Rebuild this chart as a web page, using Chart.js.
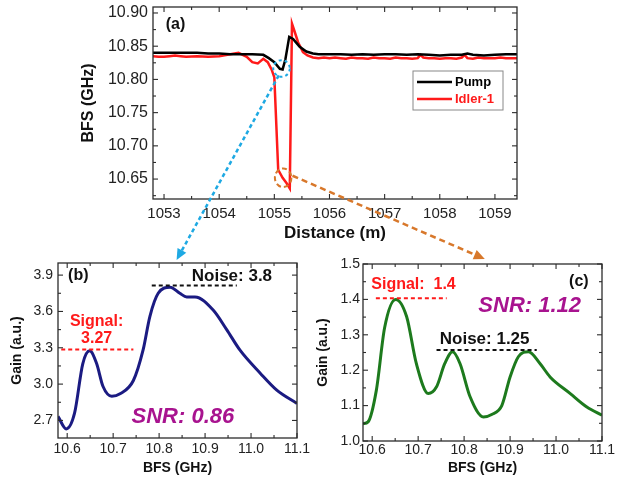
<!DOCTYPE html>
<html lang="en">
<head>
<meta charset="UTF-8">
<title>BFS and Gain spectra</title>
<script src="https://cdn.jsdelivr.net/npm/chart.js"></script>
<style>
  body { margin: 0; background: #fff; }
  #wrap { position: relative; width: 621px; height: 481px; }
  canvas { position: absolute; }
</style>
</head>
<body>
<div id="wrap">
  <canvas id="chartA" width="621" height="246" style="left:0;top:0"></canvas>
  <canvas id="chartB" width="310" height="231" style="left:0;top:250px"></canvas>
  <canvas id="chartC" width="311" height="231" style="left:310px;top:250px"></canvas>
  <canvas id="arrows" width="621" height="481" style="left:0;top:0"></canvas>
</div>
<script>
// (a) BFS along the fibre
const pumpDist = [1052.8, 1053.0, 1053.2, 1053.4, 1053.6, 1053.8, 1054.0, 1054.2, 1054.4, 1054.6, 1054.8,
  1054.9, 1055.0, 1055.1, 1055.15, 1055.2, 1055.27, 1055.34, 1055.4, 1055.46, 1055.58, 1055.7, 1055.8,
  1056.0, 1056.2, 1056.4, 1056.6, 1056.8, 1057.0, 1057.2, 1057.4, 1057.6, 1057.8, 1058.0, 1058.2,
  1058.4, 1058.5, 1058.6, 1058.8, 1059.0, 1059.2, 1059.4];
const pumpBfs = [10.840, 10.840, 10.840, 10.840, 10.840, 10.839, 10.839, 10.838, 10.838, 10.838, 10.837,
  10.832, 10.826, 10.816, 10.815, 10.830, 10.864, 10.861, 10.855, 10.849, 10.842, 10.839, 10.838,
  10.838, 10.838, 10.837, 10.838, 10.837, 10.838, 10.838, 10.837, 10.838, 10.837, 10.836, 10.837,
  10.837, 10.839, 10.837, 10.836, 10.837, 10.838, 10.838];

const idlerDist = [1052.8, 1052.9, 1053.0, 1053.1, 1053.2, 1053.3, 1053.4, 1053.6, 1053.8, 1054.0, 1054.2,
  1054.35, 1054.5, 1054.6, 1054.7, 1054.8, 1054.88, 1054.95, 1055.0, 1055.07, 1055.15, 1055.22, 1055.28,
  1055.32, 1055.36, 1055.43, 1055.52, 1055.6, 1055.7, 1055.8, 1055.9, 1056.0, 1056.1, 1056.2, 1056.3,
  1056.4, 1056.5, 1056.6, 1056.7, 1056.8, 1056.9, 1057.0, 1057.1, 1057.2, 1057.3, 1057.4, 1057.5,
  1057.6, 1057.65, 1057.7, 1057.8, 1057.9, 1058.0, 1058.1, 1058.2, 1058.3, 1058.4, 1058.45, 1058.5,
  1058.6, 1058.7, 1058.8, 1058.9, 1059.0, 1059.1, 1059.2, 1059.4];
const idlerBfs = [10.835, 10.834, 10.834, 10.835, 10.836, 10.835, 10.834, 10.835, 10.834, 10.835, 10.838,
  10.840, 10.834, 10.826, 10.824, 10.831, 10.826, 10.815, 10.803, 10.664, 10.652, 10.644, 10.636,
  10.884, 10.874, 10.856, 10.841, 10.836, 10.833, 10.832, 10.833, 10.832, 10.833, 10.832, 10.831,
  10.833, 10.832, 10.832, 10.831, 10.833, 10.832, 10.832, 10.831, 10.833, 10.832, 10.832, 10.831,
  10.832, 10.837, 10.833, 10.832, 10.832, 10.831, 10.832, 10.832, 10.831, 10.833, 10.837, 10.832,
  10.831, 10.833, 10.832, 10.832, 10.832, 10.833, 10.832, 10.832];

const aXTicks = [1053, 1054, 1055, 1056, 1057, 1058, 1059];
const aYTicks = [10.65, 10.70, 10.75, 10.80, 10.85, 10.90];

// (b) gain spectrum, blue ellipse
const bfsB = [10.58, 10.598, 10.616, 10.634, 10.649, 10.664, 10.678, 10.697, 10.715, 10.744, 10.765,
  10.78, 10.798, 10.824, 10.845, 10.86, 10.878, 10.918, 10.947, 10.976, 11.02, 11.056, 11.1];
const gainB = [2.733, 2.63, 2.76, 3.17, 3.275, 3.17, 2.98, 2.90, 2.92, 3.03, 3.28,
  3.56, 3.75, 3.80, 3.75, 3.72, 3.72, 3.61, 3.45, 3.28, 3.09, 2.95, 2.84];
const bYTicks = [2.7, 3.0, 3.3, 3.6, 3.9];

// (c) gain spectrum, orange ellipse
const bfsC = [10.58, 10.591, 10.609, 10.627, 10.651, 10.675, 10.696, 10.722, 10.74, 10.758, 10.775,
  10.791, 10.813, 10.842, 10.86, 10.882, 10.90, 10.918, 10.94, 10.965, 10.987, 11.031, 11.067, 11.1];
const gainC = [1.049, 1.054, 1.143, 1.32, 1.40, 1.351, 1.219, 1.134, 1.153, 1.219, 1.252,
  1.219, 1.125, 1.068, 1.075, 1.10, 1.181, 1.238, 1.252, 1.219, 1.181, 1.134, 1.096, 1.073];
const cYTicks = [1.0, 1.1, 1.2, 1.3, 1.4, 1.5];

const gainXTicks = [10.6, 10.7, 10.8, 10.9, 11.0, 11.1];

// signal / noise reference levels: [xStart, xEnd, level]
const bSignal = [10.587, 10.744, 3.285];
const bNoise = [10.784, 10.969, 3.815];
const cSignal = [10.608, 10.762, 1.403];
const cNoise = [10.74, 10.958, 1.257];

const FONT = 'Liberation Sans, Arial, sans-serif';
Chart.defaults.font.family = FONT;

const pts = (xs, ys) => xs.map((v, i) => ({ x: v, y: ys[i] }));
const levelLine = (l) => [{ x: l[0], y: l[2] }, { x: l[1], y: l[2] }];

// inward ticks on all four sides plus the frame, texts, ellipses
const framePlugin = {
  id: 'frame',
  afterDatasetsDraw(chart, args, opts) {
    const { ctx, chartArea: a, scales: { x, y } } = chart;
    ctx.save();
    ctx.strokeStyle = '#2b2b2b';
    ctx.lineWidth = 1.3;
    ctx.strokeRect(a.left, a.top, a.width, a.height);
    const line = (x1, y1, x2, y2) => { ctx.beginPath(); ctx.moveTo(x1, y1); ctx.lineTo(x2, y2); ctx.stroke(); };
    const marks = (scale) => {
      const vals = scale.ticks.map(t => t.value);
      const step = vals[1] - vals[0];
      const out = vals.map(v => [v, 5]);
      [vals[0] - step / 2, ...vals.map(v => v + step / 2)].forEach(v => {
        if (v > scale.min && v < scale.max) out.push([v, 3]);
      });
      return out;
    };
    ctx.lineWidth = 1.1;
    marks(x).forEach(([v, l]) => {
      const px = x.getPixelForValue(v);
      line(px, a.bottom, px, a.bottom - l);
      line(px, a.top, px, a.top + l);
    });
    marks(y).forEach(([v, l]) => {
      const py = y.getPixelForValue(v);
      line(a.left, py, a.left + l, py);
      line(a.right, py, a.right - l, py);
    });

    (opts.ellipses || []).forEach(e => {
      const x1 = x.getPixelForValue(e.x1), x2 = x.getPixelForValue(e.x2);
      const y1 = y.getPixelForValue(e.y1), y2 = y.getPixelForValue(e.y2);
      ctx.strokeStyle = e.color;
      ctx.lineWidth = 2;
      ctx.setLineDash(e.dash);
      ctx.beginPath();
      ctx.ellipse((x1 + x2) / 2, (y1 + y2) / 2, Math.abs(x2 - x1) / 2, Math.abs(y2 - y1) / 2, 0, 0, Math.PI * 2);
      ctx.stroke();
      ctx.setLineDash([]);
    });

    (opts.labels || []).forEach(t => {
      ctx.fillStyle = t.color;
      ctx.font = t.font;
      ctx.textAlign = t.align || 'left';
      ctx.textBaseline = 'middle';
      ctx.fillText(t.text, x.getPixelForValue(t.x), y.getPixelForValue(t.y));
    });

    if (opts.legend) {
      const bx = a.right - 104, by = a.top + 64, bw = 90, bh = 39;
      ctx.fillStyle = '#fff';
      ctx.fillRect(bx, by, bw, bh);
      ctx.strokeStyle = '#888';
      ctx.lineWidth = 1;
      ctx.strokeRect(bx, by, bw, bh);
      ctx.font = 'bold 13px ' + FONT;
      ctx.textAlign = 'left';
      ctx.textBaseline = 'middle';
      opts.legend.forEach((it, i) => {
        const ly = by + 11 + i * 17;
        ctx.strokeStyle = it.color;
        ctx.lineWidth = 2.5;
        line(bx + 4, ly, bx + 39, ly);
        ctx.fillStyle = it.textColor;
        ctx.fillText(it.text, bx + 42, ly);
      });
    }
    ctx.restore();
  }
};

function axis(min, max, tickVals, fmt, size, pad, title, titleSize, size2, titlePadBottom) {
  const horizontal = tickVals === aXTicks || tickVals === gainXTicks;
  return {
    type: 'linear', min: min, max: max,
    afterBuildTicks: s => { s.ticks = tickVals.map(v => ({ value: v })); },
    afterFit: s => {
      // fixed box size, no extra room for end labels
      if (horizontal) { s.height = size2; s.paddingLeft = 0; s.paddingRight = 0; }
      else { s.width = size2; s.paddingTop = 0; s.paddingBottom = 0; }
    },
    grid: { display: false, drawTicks: false },
    border: { display: false },
    ticks: { autoSkip: false, maxRotation: 0, padding: pad, color: '#222', font: { size: size }, callback: fmt },
    title: {
      display: true, text: title, color: '#111', font: { size: titleSize, weight: 'bold' },
      padding: { top: 4, bottom: titlePadBottom === undefined ? 4 : titlePadBottom }
    }
  };
}

const base = {
  responsive: false,
  animation: false,
  devicePixelRatio: 1,
  events: []
};

const chartA = new Chart(document.getElementById('chartA'), {
  type: 'line',
  data: {
    datasets: [
      { data: pts(pumpDist, pumpBfs), borderColor: '#000', borderWidth: 2.5, pointRadius: 0, tension: 0 },
      { data: pts(idlerDist, idlerBfs), borderColor: '#ff1a1a', borderWidth: 2.5, pointRadius: 0, tension: 0 }
    ]
  },
  options: Object.assign({}, base, {
    layout: { padding: { left: 75, right: 104, top: 7, bottom: 0 } },
    scales: {
      x: axis(1052.8, 1059.4, aXTicks, v => String(v), 15, 6, 'Distance (m)', 17, 47, 2),
      y: axis(10.62, 10.909, aYTicks, v => v.toFixed(2), 16, 5, 'BFS (GHz)', 16, 78)
    },
    plugins: {
      legend: { display: false }, tooltip: { enabled: false },
      frame: {
        ellipses: [
          { x1: 1054.98, x2: 1055.28, y1: 10.804, y2: 10.829, color: '#1ea9e3', dash: [3, 3] },
          { x1: 1055.01, x2: 1055.31, y1: 10.638, y2: 10.666, color: '#d8782b', dash: [5, 3] }
        ],
        labels: [{ x: 1053.03, y: 10.882, text: '(a)', color: '#111', font: 'bold 16px ' + FONT }],
        legend: [
          { text: 'Pump', color: '#000', textColor: '#000' },
          { text: 'Idler-1', color: '#ff1a1a', textColor: '#ff1a1a' }
        ]
      }
    }
  }),
  plugins: [framePlugin]
});

const chartB = new Chart(document.getElementById('chartB'), {
  type: 'line',
  data: {
    datasets: [
      { data: levelLine(bSignal), borderColor: '#ff1a1a', borderWidth: 2, borderDash: [4, 3], pointRadius: 0 },
      { data: levelLine(bNoise), borderColor: '#111', borderWidth: 2, borderDash: [4, 3], pointRadius: 0 },
      { data: pts(bfsB, gainB), borderColor: '#1b1b82', borderWidth: 3, pointRadius: 0, cubicInterpolationMode: 'monotone' }
    ]
  },
  options: Object.assign({}, base, {
    layout: { padding: { left: 5, right: 13, top: 13, bottom: 0 } },
    scales: {
      x: axis(10.58, 11.1, gainXTicks, v => v.toFixed(1), 14, 3, 'BFS (GHz)', 14, 43),
      y: axis(2.555, 4.0, bYTicks, v => v.toFixed(1), 14, 5, 'Gain (a.u.)', 14, 53)
    },
    plugins: {
      legend: { display: false }, tooltip: { enabled: false },
      frame: {
        labels: [
          { x: 10.602, y: 3.9, text: '(b)', color: '#111', font: 'bold 16px ' + FONT },
          { x: 10.871, y: 3.892, text: 'Noise: 3.8', color: '#111', font: 'bold 17px ' + FONT },
          { x: 10.664, y: 3.515, text: 'Signal:', color: '#ff1a1a', font: 'bold 16px ' + FONT, align: 'center' },
          { x: 10.664, y: 3.378, text: '3.27', color: '#ff1a1a', font: 'bold 16px ' + FONT, align: 'center' },
          { x: 10.74, y: 2.732, text: 'SNR: 0.86', color: '#a8138f', font: 'italic bold 22px ' + FONT }
        ]
      }
    }
  }),
  plugins: [framePlugin]
});

const chartC = new Chart(document.getElementById('chartC'), {
  type: 'line',
  data: {
    datasets: [
      { data: levelLine(cSignal), borderColor: '#ff1a1a', borderWidth: 2, borderDash: [4, 3], pointRadius: 0 },
      { data: levelLine(cNoise), borderColor: '#111', borderWidth: 2, borderDash: [4, 3], pointRadius: 0 },
      { data: pts(bfsC, gainC), borderColor: '#1d7a1d', borderWidth: 3, pointRadius: 0, cubicInterpolationMode: 'monotone' }
    ]
  },
  options: Object.assign({}, base, {
    layout: { padding: { left: 1, right: 19, top: 14, bottom: 0 } },
    scales: {
      x: axis(10.58, 11.1, gainXTicks, v => v.toFixed(1), 14, 1, 'BFS (GHz)', 14, 40),
      y: axis(1.0, 1.5, cYTicks, v => v.toFixed(1), 14, 3, 'Gain (a.u.)', 14, 52)
    },
    plugins: {
      legend: { display: false }, tooltip: { enabled: false },
      frame: {
        labels: [
          { x: 11.071, y: 1.45, text: '(c)', color: '#111', font: 'bold 16px ' + FONT, align: 'right' },
          { x: 10.598, y: 1.441, text: 'Signal:  1.4', color: '#ff1a1a', font: 'bold 16px ' + FONT },
          { x: 10.831, y: 1.381, text: 'SNR: 1.12', color: '#a8138f', font: 'italic bold 22px ' + FONT },
          { x: 10.747, y: 1.287, text: 'Noise: 1.25', color: '#111', font: 'bold 17px ' + FONT }
        ]
      }
    }
  }),
  plugins: [framePlugin]
});

// dashed arrows from the ellipses in (a) to panels (b) and (c)
function drawArrow(ctx, x1, y1, x2, y2, color, dash) {
  const ang = Math.atan2(y2 - y1, x2 - x1);
  const hl = 11, hw = 5;
  const bx = x2 - hl * Math.cos(ang), by = y2 - hl * Math.sin(ang);
  ctx.strokeStyle = color;
  ctx.lineWidth = 2.5;
  ctx.setLineDash(dash);
  ctx.beginPath();
  ctx.moveTo(x1, y1);
  ctx.lineTo(bx, by);
  ctx.stroke();
  ctx.setLineDash([]);
  ctx.fillStyle = color;
  ctx.beginPath();
  ctx.moveTo(x2, y2);
  ctx.lineTo(bx + hw * Math.sin(ang), by - hw * Math.cos(ang));
  ctx.lineTo(bx - hw * Math.sin(ang), by + hw * Math.cos(ang));
  ctx.closePath();
  ctx.fill();
}

const actx = document.getElementById('arrows').getContext('2d');
const sa = chartA.scales;
drawArrow(actx,
  sa.x.getPixelForValue(1055.08), sa.y.getPixelForValue(10.806),
  chartB.scales.x.getPixelForValue(10.838), 250 + chartB.chartArea.top - 3,
  '#1ea9e3', [4, 3]);
drawArrow(actx,
  sa.x.getPixelForValue(1055.33), sa.y.getPixelForValue(10.655),
  310 + chartC.scales.x.getPixelForValue(10.845), 250 + chartC.chartArea.top - 5,
  '#d8782b', [6, 4]);
</script>
</body>
</html>
